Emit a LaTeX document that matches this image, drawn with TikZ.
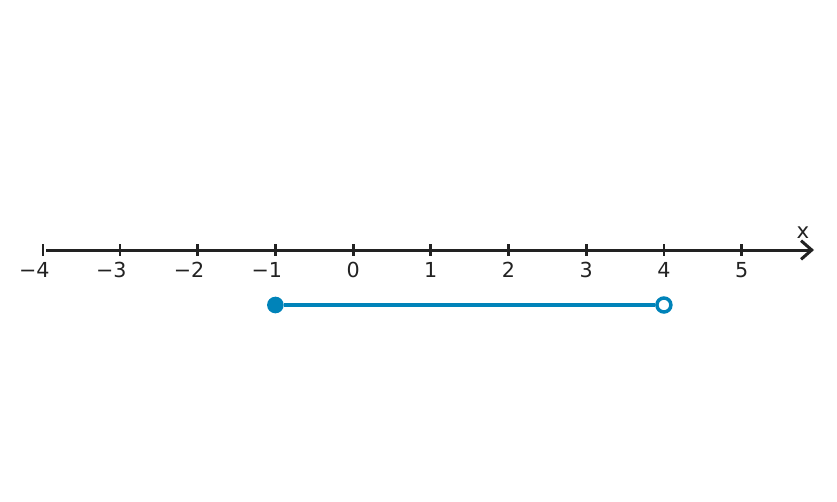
\documentclass[tikz,border=0pt]{standalone}
\usepackage{fontspec}
\setmainfont{DejaVu Sans}
\usetikzlibrary{arrows.meta}
\definecolor{axisc}{HTML}{222222}
\definecolor{segc}{HTML}{0083B9}
\tikzset{
  axisline/.style={draw=axisc, line width=2.25pt},
  tickmark/.style={draw=axisc, line width=2.1pt},
  ticklabel/.style={font=\fontsize{15.5pt}{17pt}\selectfont, text=axisc, inner sep=0pt, anchor=base},
  seg/.style={draw=segc, line width=2.4pt},
  closeddot/.style={circle, fill=segc, minimum size=12.5pt, inner sep=0pt},
  opendot/.style={circle, draw=segc, line width=2.6pt, fill=white, minimum size=10.5pt, inner sep=0pt}
}
\begin{document}
\begin{tikzpicture}[x=0.75pt,y=-0.75pt]
\useasboundingbox (0,0) rectangle (837,502);
\coordinate (start) at (46,250);
\coordinate (end) at (814,250);
\draw[axisline, -{Straight Barb[length=8pt,width=14pt,line width=2.25pt]}] (start) -- (end);
\draw[draw=axisc, line width=1.1pt] (43,244) -- (43,256);
\foreach \v/\x in {-3/120,-2/197.7,-1/275.4} {
  \draw[tickmark] (\x,244) -- (\x,256);
}
\node[ticklabel] (lm4) at (43,277) {\llap{−}4};
\node[ticklabel] (lm3) at (120,277) {\llap{−}3};
\node[ticklabel] (lm2) at (197.7,277) {\llap{−}2};
\node[ticklabel] (lm1) at (275.4,277) {\llap{−}1};
\foreach \v/\x in {0/353.1,1/430.8,2/508.5,3/586.2,4/663.9,5/741.6} {
  \draw[tickmark] (\x,244) -- (\x,256);
  \node[ticklabel] (l\v) at (\x,277) {\v};
}
\node[font=\fontsize{16pt}{17pt}\selectfont, text=axisc, inner sep=0pt, anchor=base] (xl) at (803,238) {x};
\node[closeddot] (a) at (275.4,305) {};
\node[opendot] (b) at (663.9,305) {};
\draw[seg] (a) -- (b);
\end{tikzpicture}
\end{document}
